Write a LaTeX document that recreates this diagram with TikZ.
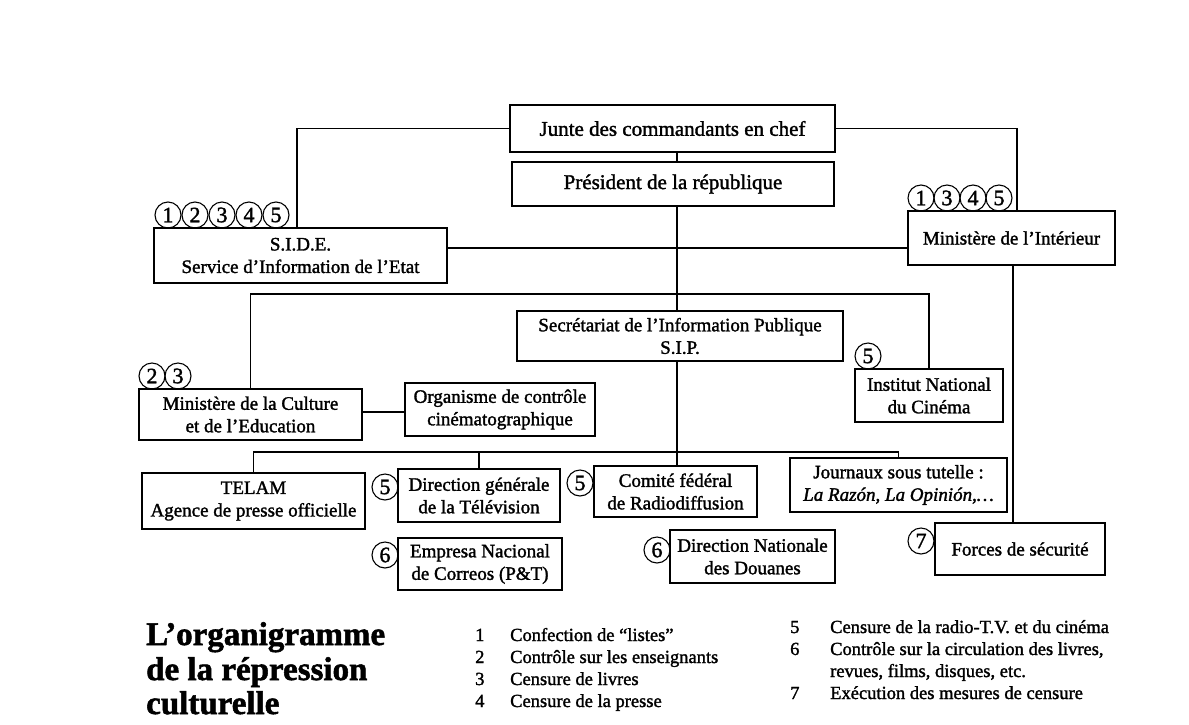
\documentclass[tikz,border=0pt]{standalone}
\usepackage{fontspec}
\setmainfont{Liberation Serif}[FakeBold=1.6]
\begin{document}
\begin{tikzpicture}[x=1pt,y=-1pt,
  box/.style={draw, line width=1.7pt, align=center, inner sep=0pt, font=\fontsize{19}{22.5}\selectfont},
  bigbox/.style={box, font=\fontsize{21}{24}\selectfont},
  numc/.style={circle, draw, line width=1.1pt, inner sep=0pt, minimum size=26pt, font=\fontsize{22}{22}\selectfont},
  conn/.style={line width=1.7pt},
  leg/.style={anchor=base west, inner sep=0pt, font=\fontsize{18.5}{21}\selectfont},
  ttl/.style={anchor=base west, inner sep=0pt, font=\fontsize{33}{35}\selectfont\bfseries}]
\useasboundingbox (0,0) rectangle (1189,724);

% boxes
\node[bigbox, minimum width=325pt, minimum height=47pt] (junte) at (672.5,128.5) {Junte des commandants en chef};
\node[bigbox, minimum width=322pt, minimum height=44pt] (pres) at (673,184) {Président de la république};
\node[box, minimum width=293pt, minimum height=55pt] (side) at (300.5,255.5) {S.I.D.E.\\Service d’Information de l’Etat};
\node[box, minimum width=207pt, minimum height=54pt] (inter) at (1011.5,238) {Ministère de l’Intérieur};
\node[box, minimum width=326pt, minimum height=50pt] (sip) at (680,336) {Secrétariat de l’Information Publique\\S.I.P.};
\node[box, minimum width=223pt, minimum height=51pt] (cult) at (250.5,414.5) {Ministère de la Culture\\et de l’Education};
\node[box, minimum width=190pt, minimum height=53pt] (orga) at (500,409.5) {Organisme de contrôle\\cinématographique};
\node[box, minimum width=148pt, minimum height=53pt] (inc) at (929,395.5) {Institut National\\du Cinéma};
\node[box, minimum width=223pt, minimum height=56pt] (telam) at (253.5,501) {TELAM\\Agence de presse officielle};
\node[box, minimum width=162pt, minimum height=53pt] (dirg) at (479,495.5) {Direction générale\\de la Télévision};
\node[box, minimum width=163pt, minimum height=51pt] (comite) at (675.5,491.5) {Comité fédéral\\de Radiodiffusion};
\node[box, minimum width=217pt, minimum height=54pt] (journ) at (898.5,485) {Journaux sous tutelle :\\{\itshape La Razón, La Opinión,…}};
\node[box, minimum width=164pt, minimum height=52pt] (empresa) at (480,564) {Empresa Nacional\\de Correos (P\&T)};
\node[box, minimum width=165pt, minimum height=53pt] (douanes) at (752.5,556.5) {Direction Nationale\\des Douanes};
\node[box, minimum width=170pt, minimum height=52pt] (forces) at (1020,549) {Forces de sécurité};

% number circles
\node[numc] (s1) at (168,215) {1};
\node[numc] (s2) at (195,215) {2};
\node[numc] (s3) at (222,215) {3};
\node[numc] (s4) at (249,215) {4};
\node[numc] (s5) at (276,215) {5};
\node[numc] (i1) at (921,198) {1};
\node[numc] (i3) at (947,198) {3};
\node[numc] (i4) at (973,198) {4};
\node[numc] (i5) at (999,198) {5};
\node[numc] (c2) at (152,376) {2};
\node[numc] (c3) at (178,376) {3};
\node[numc] (n5) at (868,356) {5};
\node[numc] (d5) at (385,487) {5};
\node[numc] (r5) at (580,483) {5};
\node[numc] (e6) at (385,555) {6};
\node[numc] (o6) at (657,550) {6};
\node[numc] (f7) at (921,541) {7};

% helper coordinates
\coordinate (cx) at (677,0);
\coordinate (sx) at (297,0);
\coordinate (rx) at (1017,0);
\coordinate (ix) at (1013,0);
\coordinate (l1) at (0,248);
\coordinate (l2) at (0,412);
\coordinate (b2) at (0,294);
\coordinate (b3) at (0,452);

% connectors
\draw[conn] (junte.south -| cx) -- (pres.north -| cx);
\draw[conn] (pres.south -| cx) -- (sip.north -| cx);
\draw[conn] (sip.south -| cx) -- (comite.north -| cx);
\draw[conn] (junte.west) -| (side.north -| sx);
\draw[conn] (junte.east) -| (inter.north -| rx);
\draw[conn] (side.east |- l1) -- (inter.west |- l1);
\draw[conn] (inter.south -| ix) -- (forces.north -| ix);
\draw[conn] (cult.north) -- (cult.north |- b2) -- (inc.north |- b2) -- (inc.north);
\draw[conn] (cult.east |- l2) -- (orga.west |- l2);
\draw[conn] (telam.north) -- (telam.north |- b3) -- (journ.north |- b3) -- (journ.north);
\draw[conn] (dirg.north) -- (dirg.north |- b3);

% legend
\node[ttl] (t1) at (146,645) {L’organigramme};
\node[ttl] (t2) at (146,680) {de la répression};
\node[ttl] (t3) at (146,714) {culturelle};

\node[leg] (n1) at (475,641) {1};
\node[leg] (n2) at (475,663) {2};
\node[leg] (n3) at (475,685) {3};
\node[leg] (n4) at (475,707) {4};
\node[leg] (x1) at (510,641) {Confection de “listes”};
\node[leg] (x2) at (510,663) {Contrôle sur les enseignants};
\node[leg] (x3) at (510,685) {Censure de livres};
\node[leg] (x4) at (510,707) {Censure de la presse};

\node[leg] (n5l) at (790,633) {5};
\node[leg] (n6l) at (790,655) {6};
\node[leg] (n7l) at (790,699) {7};
\node[leg] (x5) at (830,633) {Censure de la radio-T.V. et du cinéma};
\node[leg] (x6) at (830,655) {Contrôle sur la circulation des livres,};
\node[leg] (x6b) at (830,677) {revues, films, disques, etc.};
\node[leg] (x7) at (830,699) {Exécution des mesures de censure};
\end{tikzpicture}
\end{document}
